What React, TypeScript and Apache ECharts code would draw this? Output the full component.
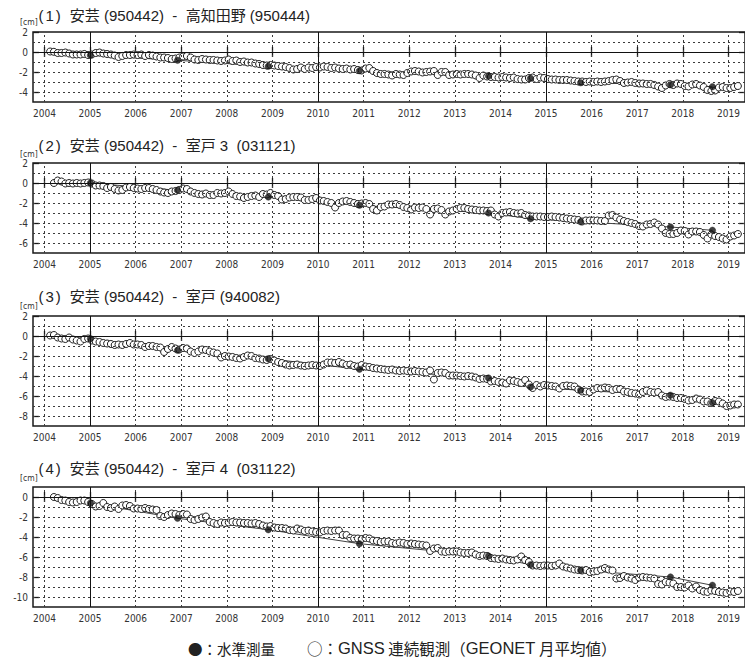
import React, { useEffect, useRef } from 'react';
import * as echarts from 'echarts';

// ---------- data ----------
const yearTicks = [2004, 2005, 2006, 2007, 2008, 2009, 2010, 2011, 2012, 2013, 2014, 2015, 2016, 2017, 2018, 2019];

const panelNumbers = ['1', '2', '3', '4'];
const panelTitles = [
  '安芸 (950442) \u00a0-\u00a0\u00a0高知田野 (950444)',
  '安芸 (950442) \u00a0-\u00a0\u00a0室戸 3\u00a0 (031121)',
  '安芸 (950442) \u00a0-\u00a0\u00a0室戸 (940082)',
  '安芸 (950442) \u00a0-\u00a0\u00a0室戸 4\u00a0 (031122)',
];

const yMins = [-5, -7, -9, -11];
const yMaxs = [2, 2, 2, 1];
const yLabels1 = [2, 0, -2, -4];
const yLabels2 = [2, 0, -2, -4, -6];
const yLabels3 = [2, 0, -2, -4, -6, -8];
const yLabels4 = [0, -2, -4, -6, -8, -10];

// leveling survey epochs (decimal year) and values [cm]
const levelDates = [2005.01, 2006.92, 2008.91, 2010.91, 2013.74, 2014.66, 2015.76, 2017.73, 2018.65];
const level1 = [-0.33, -0.83, -1.43, -1.87, -2.4, -2.63, -3.07, -3.27, -3.47];
const level2 = [0.0, -0.73, -1.4, -2.23, -3.0, -3.57, -3.87, -4.4, -4.73];
const level3 = [-0.27, -1.43, -2.27, -3.33, -4.2, -5.1, -5.43, -5.93, -6.67];
const level4 = [-0.6, -2.13, -3.27, -4.67, -5.9, -6.77, -7.33, -8.0, -8.83];

// GNSS monthly means [cm]; first month of each series
const gnssStart1: [number, number] = [2004, 2];
const gnssStart2: [number, number] = [2004, 3];
const gnssStart3: [number, number] = [2004, 2];
const gnssStart4: [number, number] = [2004, 3];

const gnss1 = [
  0.05, 0.02, -0.1, -0.1, -0.05, -0.15, -0.25, -0.25, -0.25, -0.2, -0.3,
  -0.25, -0.1, -0.05, -0.15, -0.2, -0.25, -0.35, -0.5, -0.4, -0.3, -0.3, -0.25,
  -0.3, -0.25, -0.4, -0.3, -0.35, -0.45, -0.55, -0.55, -0.6, -0.7, -0.65, -0.55,
  -0.45, -0.4, -0.55, -0.75, -0.8, -0.7, -0.75, -0.8, -0.8, -0.85, -0.9, -0.85,
  -0.75, -0.9, -0.85, -1.0, -0.95, -1.05, -1.05, -1.15, -1.2, -1.3, -1.35, -1.3,
  -1.35, -1.4, -1.45, -1.5, -1.6, -1.75, -1.7, -1.55, -1.7, -1.55, -1.6, -1.5,
  -1.55, -1.45, -1.5, -1.6, -1.55, -1.65, -1.7, -1.65, -1.75, -1.7, -1.8, -1.85,
  -1.65, -1.6, -1.9, -2.1, -2.2, -2.2, -2.25, -2.35, -2.2, -2.25, -2.3, -2.1,
  -1.95, -1.9, -1.95, -2.05, -2.0, -1.95, -1.9, -2.3, -2.0, -2.0, -2.3, -2.25,
  -2.2, -2.25, -2.2, -2.2, -2.25, -2.35, -2.6, -2.35, -2.45, -2.5, -2.5, -2.55,
  -2.5, -2.55, -2.6, -2.55, -2.7, -2.75, -2.75, -2.6, -2.55, -2.7, -2.55, -2.6,
  -2.7, -2.75, -2.75, -2.8, -2.8, -2.8, -2.85, -2.9, -2.95, -2.95, -3.0, -2.95,
  -3.0, -2.95, -3.0, -2.95, -2.9, -2.8, -2.75, -2.9, -3.1, -3.05, -3.0, -3.1,
  -3.15, -3.15, -3.2, -3.2, -3.3, -3.45, -3.6, -3.35, -3.2, -3.3, -3.15, -3.2,
  -3.4, -3.45, -3.25, -3.2, -3.35, -3.5, -3.8, -3.9, -3.85, -3.55, -3.5, -3.6,
  -3.6, -3.5, -3.4,
];

const gnss2 = [
  0.0, 0.25, 0.15, -0.05, 0.0, -0.05, 0.0, -0.05, 0.0, 0.05,
  -0.05, -0.25, -0.25, -0.3, -0.5, -0.4, -0.6, -0.75, -0.7, -0.45, -0.4, -0.5,
  -0.55, -0.6, -0.5, -0.5, -0.6, -0.7, -0.85, -0.95, -1.0, -0.85, -0.8, -0.7,
  -0.55, -0.6, -0.85, -1.0, -1.1, -1.15, -1.05, -1.2, -1.2, -1.0, -1.05, -1.0,
  -0.85, -1.1, -1.3, -1.35, -1.5, -1.4, -1.3, -1.25, -1.4, -1.1, -1.15, -1.0,
  -1.2, -1.3, -1.65, -1.6, -1.45, -1.4, -1.4, -1.45, -1.7, -1.7, -1.6, -1.5,
  -1.75, -1.8, -1.9, -2.0, -2.45, -2.0, -1.85, -1.8, -1.9, -2.0, -2.1, -2.05,
  -2.0, -2.1, -2.6, -2.75, -2.4, -2.35, -2.15, -2.15, -2.1, -2.2, -2.4, -2.5,
  -2.65, -2.45, -2.5, -2.45, -2.6, -3.15, -2.6, -2.55, -2.7, -3.15, -2.85, -2.75,
  -2.6, -2.5, -2.5, -2.6, -2.65, -2.7, -2.75, -2.75, -2.8, -2.75, -3.15, -3.35,
  -3.0, -2.95, -2.9, -3.0, -3.05, -3.0, -3.2, -3.25, -3.35, -3.35, -3.35, -3.4,
  -3.4, -3.35, -3.4, -3.45, -3.5, -3.55, -3.6, -3.65, -3.7, -3.85, -3.75, -3.75,
  -3.75, -3.75, -3.8, -3.8, -3.25, -3.2, -3.45, -3.65, -3.8, -3.9, -4.0, -4.1,
  -4.3, -4.35, -4.15, -4.1, -3.95, -4.15, -4.55, -5.0, -5.1, -5.1, -5.0, -4.75,
  -4.8, -5.15, -4.85, -4.85, -4.9, -5.2, -5.55, -5.15, -5.3, -5.4, -5.55, -5.65,
  -5.35, -5.25, -5.1,
];

const gnss3 = [
  0.05, 0.1, -0.15, -0.25, -0.3, -0.15, -0.35, -0.45, -0.55, -0.3, -0.25,
  -0.45, -0.55, -0.6, -0.7, -0.75, -0.8, -0.9, -0.85, -0.9, -0.8, -0.7, -0.85,
  -0.85, -0.9, -1.1, -1.0, -1.0, -1.1, -1.15, -1.6, -1.3, -1.1, -1.25, -1.35,
  -1.2, -1.25, -1.55, -1.7, -1.55, -1.35, -1.4, -1.55, -1.65, -1.75, -2.15, -2.0,
  -2.05, -2.1, -2.2, -2.25, -2.1, -1.95, -2.0, -2.2, -2.25, -2.35, -2.4, -2.3,
  -2.45, -2.6, -2.7, -2.85, -2.95, -2.9, -2.85, -2.95, -3.0, -2.95, -2.9, -2.95,
  -3.0, -2.85, -2.65, -2.65, -2.7, -2.6, -2.75, -2.9, -2.85, -3.0, -3.05, -2.9,
  -3.05, -3.1, -3.2, -3.25, -3.3, -3.35, -3.4, -3.35, -3.45, -3.5, -3.45, -3.5,
  -3.55, -3.5, -3.55, -3.6, -3.65, -3.45, -4.35, -3.7, -3.65, -3.7, -3.95, -3.95,
  -3.95, -4.0, -4.05, -4.0, -4.05, -4.15, -4.3, -4.25, -4.3, -4.55, -4.5, -4.6,
  -4.65, -4.75, -4.45, -4.5, -4.6, -4.7, -4.4, -4.85, -5.2, -4.9, -5.05, -4.9,
  -4.95, -5.0, -5.05, -5.25, -5.0, -4.95, -5.0, -5.05, -5.35, -5.55, -5.55, -5.6,
  -5.35, -5.2, -5.25, -5.15, -5.2, -5.4, -5.3, -5.3, -5.55, -5.6, -5.7, -5.75,
  -5.85, -5.6, -5.45, -5.6, -5.65, -5.6, -5.95, -6.1, -6.05, -6.1, -6.2, -6.2,
  -6.3, -6.45, -6.4, -6.25, -6.35, -6.55, -6.55, -6.7, -6.5, -6.55, -6.75, -7.0,
  -6.95, -6.85, -6.85,
];

const gnss4 = [
  0.0, -0.1, -0.3, -0.35, -0.5, -0.55, -0.5, -0.35, -0.35, -0.5,
  -0.7, -0.95, -0.9, -0.6, -1.0, -1.1, -0.95, -1.2, -0.85, -0.8, -0.9, -1.15,
  -1.15, -1.2, -1.1, -1.2, -1.25, -1.3, -1.9, -2.0, -1.8, -1.65, -1.7, -1.8,
  -1.7, -1.75, -2.2, -2.3, -2.2, -2.05, -1.95, -2.5, -2.6, -2.7, -2.55, -2.6,
  -2.55, -2.5, -2.55, -2.55, -2.6, -2.6, -2.65, -2.6, -2.7, -2.85, -2.95, -2.9,
  -3.05, -3.1, -3.1, -3.15, -3.3, -3.35, -3.15, -3.25, -3.4, -3.35, -3.45, -3.5,
  -3.55, -3.4, -3.35, -3.4, -3.35, -3.35, -3.8, -3.8, -4.1, -4.15, -4.15, -4.2,
  -4.1, -4.15, -4.35, -4.4, -4.5, -4.45, -4.45, -4.6, -4.65, -4.55, -4.6, -4.7,
  -4.65, -4.7, -4.75, -4.8, -4.85, -5.4, -5.15, -5.1, -5.45, -5.5, -5.45, -5.45,
  -5.45, -5.55, -5.6, -5.6, -5.55, -5.75, -5.9, -5.85, -5.9, -6.1, -6.15, -6.2,
  -6.15, -6.25, -6.3, -6.35, -6.25, -5.95, -6.3, -6.5, -6.85, -6.85, -6.9, -6.85,
  -6.85, -6.9, -6.85, -6.65, -6.95, -7.05, -7.15, -7.25, -7.3, -7.35, -7.3, -7.5,
  -7.45, -7.4, -7.25, -7.1, -7.25, -7.35, -8.15, -8.1, -7.9, -8.05, -8.15, -8.3,
  -8.05, -8.0, -8.05, -8.1, -8.15, -8.7, -8.75, -8.5, -8.55, -8.65, -9.0, -9.0,
  -9.05, -8.85, -9.15, -8.95, -9.3, -9.45, -9.5, -9.35, -9.4, -9.5, -9.55, -9.6,
  -9.45, -9.5, -9.4,
];

// legend texts
const legendLeveling = ['●：', '水準測量'];
const legendGnss = ['○：', 'GNSS', '\u00a0連続観測', '（', 'GEONET', '\u00a0月平均値', '）'];

// ---------- helpers ----------
const monthly = (start: [number, number], vals: number[]) =>
  vals.map((v, i) => [start[0] + (start[1] - 1 + i + 0.5) / 12, v]);

const FONT_TICK = "'DejaVu Sans Condensed', 'DejaVu Sans', sans-serif";
const FONT_TEXT = "'Liberation Sans', 'Noto Sans CJK JP', sans-serif";
const FONT_CJK = "'Noto Sans CJK JP', sans-serif";
const FONT_LATIN = "'Liberation Sans', sans-serif";

const X_MIN = 2003.75;
const X_MAX = 2003.75 + 712 / 45.6;
const GRID_LEFT = 33;
const GRID_WIDTH = 712;
const gridTops = [32, 163, 316, 487];
const titleYs = [15, 145, 296, 468];
const cmYs = [22, 154, 306, 478];

export default function App() {
  const ref = useRef<HTMLDivElement>(null);

  useEffect(() => {
    document.body.style.margin = '0';
    if (!ref.current) return;
    const chart = echarts.init(ref.current, undefined, { renderer: 'svg' });

    const levels = [level1, level2, level3, level4];
    const gnss = [
      monthly(gnssStart1, gnss1),
      monthly(gnssStart2, gnss2),
      monthly(gnssStart3, gnss3),
      monthly(gnssStart4, gnss4),
    ];
    const yLabelSets = [yLabels1, yLabels2, yLabels3, yLabels4];

    const grids: any[] = [];
    const xAxes: any[] = [];
    const yAxes: any[] = [];
    const series: any[] = [];
    const graphics: any[] = [];

    const dotted = { color: '#3a3a3a', width: 1, type: [2, 3] };
    const solid = { color: '#111', width: 1, type: 'solid' };
    const tickStyle = { color: '#1a1a1a', width: 1.3 };

    for (let i = 0; i < 4; i++) {
      const h = (yMaxs[i] - yMins[i]) * 10;
      grids.push({
        left: GRID_LEFT,
        width: GRID_WIDTH,
        top: gridTops[i],
        height: h,
        show: true,
        borderColor: '#1a1a1a',
        borderWidth: 1.5,
        backgroundColor: 'transparent',
      });
      xAxes.push({
        type: 'value',
        gridIndex: i,
        position: 'bottom',
        min: X_MIN,
        max: X_MAX,
        axisLine: { show: false },
        splitLine: { show: false },
        axisTick: { show: true, inside: true, length: 5, customValues: yearTicks, lineStyle: tickStyle },
        axisLabel: {
          show: true,
          customValues: yearTicks,
          formatter: (v: number) => String(v),
          margin: 6,
          fontSize: 10,
          color: '#333',
          fontFamily: FONT_TICK,
        },
      });
      xAxes.push({
        type: 'value',
        gridIndex: i,
        position: 'top',
        min: X_MIN,
        max: X_MAX,
        axisLine: { show: false },
        splitLine: { show: false },
        axisTick: { show: true, inside: true, length: 5, customValues: yearTicks, lineStyle: tickStyle },
        axisLabel: { show: false },
      });
      yAxes.push({
        type: 'value',
        gridIndex: i,
        position: 'left',
        min: yMins[i],
        max: yMaxs[i],
        axisLine: { show: false },
        splitLine: { show: false },
        axisTick: { show: true, inside: true, length: 6, customValues: yLabelSets[i], lineStyle: tickStyle },
        axisLabel: {
          show: true,
          customValues: yLabelSets[i],
          formatter: (v: number) => String(v),
          margin: 5,
          fontSize: 10,
          lineHeight: 10,
          color: '#333',
          fontFamily: FONT_TICK,
        },
      });
      yAxes.push({
        type: 'value',
        gridIndex: i,
        position: 'right',
        min: yMins[i],
        max: yMaxs[i],
        axisLine: { show: false },
        splitLine: { show: false },
        axisTick: { show: true, inside: true, length: 6, customValues: yLabelSets[i], lineStyle: tickStyle },
        axisLabel: { show: false },
      });

      const xi = i * 2;
      const yi = i * 2;

      const gridLineData: any[] = [];
      for (let v = yMins[i] + 1; v < yMaxs[i]; v++) {
        if (v !== 0) gridLineData.push({ yAxis: v, lineStyle: dotted });
      }
      yearTicks.forEach((y) => {
        gridLineData.push({ xAxis: y, lineStyle: y % 5 === 0 ? solid : dotted });
      });
      gridLineData.push({ yAxis: 0, lineStyle: solid });

      series.push({
        type: 'line',
        xAxisIndex: xi,
        yAxisIndex: yi,
        data: [],
        z: 1,
        silent: true,
        markLine: {
          silent: true,
          symbol: ['none', 'none'],
          label: { show: false },
          emphasis: { disabled: true },
          data: gridLineData,
        },
      });

      const g = gnss[i];
      const levelLine = [[g[0][0], 0], ...levelDates.map((d, k) => [d, levels[i][k]])];
      series.push({
        type: 'line',
        xAxisIndex: xi,
        yAxisIndex: yi,
        data: levelLine,
        symbol: 'none',
        z: 2,
        silent: true,
        lineStyle: { color: '#111', width: 0.8 },
      });
      series.push({
        type: 'scatter',
        xAxisIndex: xi,
        yAxisIndex: yi,
        data: g,
        symbol: 'circle',
        symbolSize: 7,
        z: 3,
        silent: true,
        itemStyle: { color: '#fff', borderColor: '#1e1e1e', borderWidth: 1, opacity: 1 },
      });
      series.push({
        type: 'scatter',
        xAxisIndex: xi,
        yAxisIndex: yi,
        data: levelDates.map((d, k) => [d, levels[i][k]]),
        symbol: 'circle',
        symbolSize: 6.5,
        z: 4,
        silent: true,
        itemStyle: { color: '#111', borderColor: '#111', borderWidth: 0.5 },
      });

      graphics.push({
        type: 'text',
        x: 38.5,
        y: titleYs[i],
        style: {
          text: `{a|(}{n|${panelNumbers[i]}}{b|)}{t|${panelTitles[i]}}`,
          rich: {
            a: { fontSize: 15, lineHeight: 15, fontFamily: FONT_LATIN, fill: '#222', padding: [0, 2, 0, 0] },
            n: { fontSize: 15, lineHeight: 15, fontFamily: FONT_LATIN, fill: '#222', padding: [0, 2, 0, 0] },
            b: { fontSize: 15, lineHeight: 15, fontFamily: FONT_LATIN, fill: '#222', padding: [0, 9, 0, 0] },
            t: { fontSize: 15, lineHeight: 15, fontFamily: FONT_TEXT, fill: '#222' },
          },
          fontSize: 15,
          lineHeight: 15,
          fill: '#222',
          verticalAlign: 'middle',
          textVerticalAlign: 'middle',
        },
      });
      graphics.push({
        type: 'text',
        x: 20,
        y: cmYs[i],
        style: {
          text: '[cm]',
          fontSize: 8.5,
          lineHeight: 8,
          fontFamily: FONT_TICK,
          fill: '#333',
          verticalAlign: 'middle',
          textVerticalAlign: 'middle',
        },
      });
    }

    graphics.push({
      type: 'text',
      x: 188,
      y: 648,
      style: {
        text: `{c|${legendLeveling[0]}}{c|${legendLeveling[1]}}`,
        rich: { c: { fontSize: 14.5, fontFamily: FONT_CJK, fill: '#222' } },
        fontSize: 14.5,
        verticalAlign: 'middle',
        textVerticalAlign: 'middle',
      },
    });
    graphics.push({
      type: 'text',
      x: 307,
      y: 648,
      style: {
        text:
          `{c|${legendGnss[0]}}{l|${legendGnss[1]}}{c|${legendGnss[2]}}{c|${legendGnss[3]}}` +
          `{l|${legendGnss[4]}}{c|${legendGnss[5]}}{c|${legendGnss[6]}}`,
        rich: {
          c: { fontSize: 15.5, fontFamily: FONT_CJK, fill: '#222' },
          l: { fontSize: 16.5, fontFamily: FONT_LATIN, fill: '#222' },
        },
        fontSize: 15.5,
        verticalAlign: 'middle',
        textVerticalAlign: 'middle',
      },
    });

    chart.setOption({
      animation: false,
      backgroundColor: '#fff',
      grid: grids,
      xAxis: xAxes,
      yAxis: yAxes,
      series,
      graphic: graphics,
    });

    return () => chart.dispose();
  }, []);

  return <div ref={ref} style={{ position: 'absolute', left: 0, top: 0, width: 745, height: 659 }} />;
}
